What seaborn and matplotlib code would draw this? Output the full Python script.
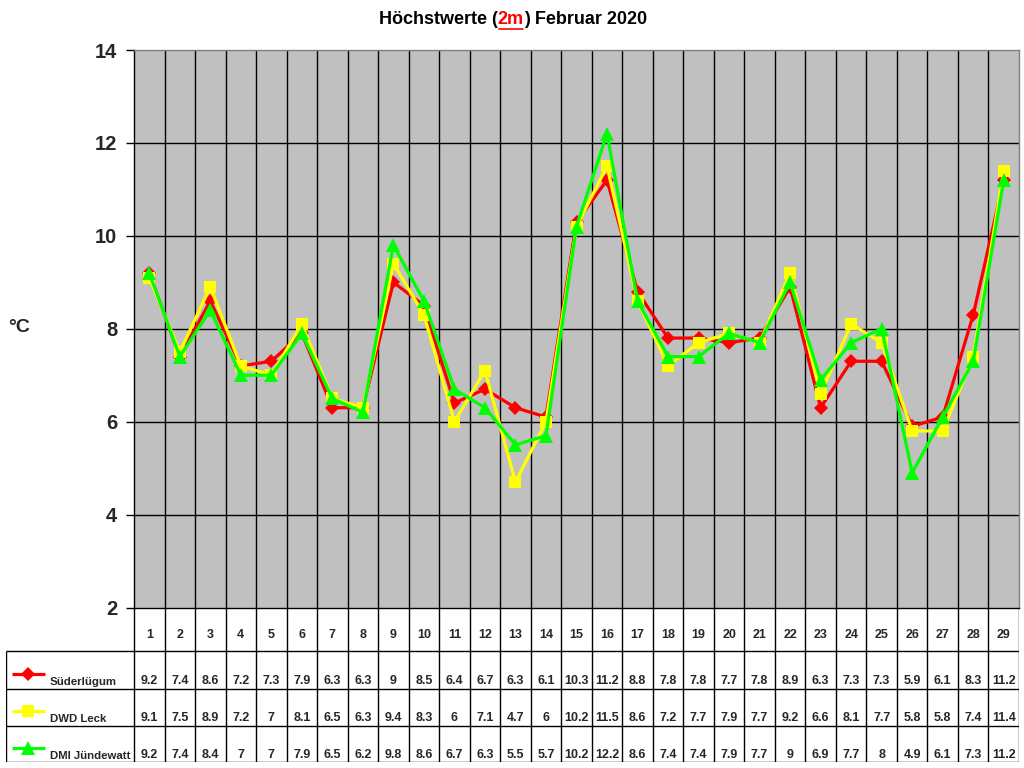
"""Höchstwerte (2m) Februar 2020 - line chart with data table."""

import matplotlib

matplotlib.use("Agg")
import matplotlib.pyplot as plt
import pandas as pd
import seaborn as sns

days = list(range(1, 30))
stations = ["Süderlügum", "DWD Leck", "DMI Jündewatt"]
suederluegum = [9.2, 7.4, 8.6, 7.2, 7.3, 7.9, 6.3, 6.3, 9, 8.5, 6.4, 6.7, 6.3, 6.1, 10.3,
                11.2, 8.8, 7.8, 7.8, 7.7, 7.8, 8.9, 6.3, 7.3, 7.3, 5.9, 6.1, 8.3, 11.2]
dwd_leck = [9.1, 7.5, 8.9, 7.2, 7, 8.1, 6.5, 6.3, 9.4, 8.3, 6, 7.1, 4.7, 6, 10.2,
            11.5, 8.6, 7.2, 7.7, 7.9, 7.7, 9.2, 6.6, 8.1, 7.7, 5.8, 5.8, 7.4, 11.4]
dmi_juendewatt = [9.2, 7.4, 8.4, 7, 7, 7.9, 6.5, 6.2, 9.8, 8.6, 6.7, 6.3, 5.5, 5.7, 10.2,
                  12.2, 8.6, 7.4, 7.4, 7.9, 7.7, 9, 6.9, 7.7, 8, 4.9, 6.1, 7.3, 11.2]
y_ticks = [2, 4, 6, 8, 10, 12, 14]

colors = {"Süderlügum": "#FF0000", "DWD Leck": "#FFFF00", "DMI Jündewatt": "#00FF00"}
markers = {"Süderlügum": "D", "DWD Leck": "s", "DMI Jündewatt": "^"}
msizes = {"Süderlügum": 7, "DWD Leck": 9, "DMI Jündewatt": 10}

sns.set_theme(style="white")
plt.rcParams["font.family"] = ["Liberation Sans", "DejaVu Sans"]
plt.rcParams["font.weight"] = "bold"

df = pd.DataFrame({"day": days, "Süderlügum": suederluegum,
                   "DWD Leck": dwd_leck, "DMI Jündewatt": dmi_juendewatt})
long_df = df.melt(id_vars="day", var_name="station", value_name="temp")

W, H = 1024, 768
fig = plt.figure(figsize=(W / 100, H / 100), dpi=100)
fig.patch.set_facecolor("white")

# plot area in pixels
left_px, right_px, top_px, bottom_px = 134, 1019, 50, 607.5
ax = fig.add_axes([left_px / W, 1 - bottom_px / H,
                   (right_px - left_px) / W, (bottom_px - top_px) / H])
ax.set_facecolor("#C0C0C0")

for station in stations:
    sub = long_df[long_df["station"] == station]
    sns.lineplot(data=sub, x="day", y="temp", color=colors[station],
                 marker=markers[station], markersize=msizes[station],
                 markeredgewidth=0, linewidth=2.3, ax=ax, legend=False)

ax.set_xlim(0.5, 29.5)
ax.set_ylim(2, 14)
ax.set_yticks(y_ticks)
ax.set_yticklabels([str(t) for t in y_ticks], fontsize=14.5, fontweight="bold")
ax.set_xticks([])
ax.set_xlabel("")
ax.set_ylabel("")
ax.tick_params(axis="y", direction="out", length=6, width=1, color="black", pad=6, left=True)
for d in range(1, 29):
    ax.axvline(d + 0.5, color="black", lw=1.0, zorder=0.5)
for t in y_ticks[1:-1]:
    ax.axhline(t, color="black", lw=1.0, zorder=0.5)
ax.spines["left"].set_color("black")
ax.spines["bottom"].set_color("black")
for s in ["top", "right"]:
    ax.spines[s].set_color("#808080")
for s in ax.spines.values():
    s.set_linewidth(1.0)

fig.text(8 / W, 1 - 328 / H, "°C", fontsize=14, fontweight="bold", ha="left", va="center")

# data table below the plot
col_w = (right_px - left_px) / 29
tab_left_px, tab_bottom_px = 6, 762


def px_to_x(px):
    return 0.5 + (px - left_px) / col_w


tab = fig.add_axes([tab_left_px / W, 1 - tab_bottom_px / H,
                    (right_px - tab_left_px) / W, (tab_bottom_px - bottom_px) / H])
tab.set_xlim(px_to_x(tab_left_px), 29.5)
tab.set_ylim(tab_bottom_px, bottom_px)
tab.axis("off")

row_lines = [651, 689, 726, 762]
tab.hlines(row_lines, px_to_x(tab_left_px), 29.5, color="black", lw=1.0)
tab.vlines([d + 0.5 for d in range(0, 30)], bottom_px, tab_bottom_px, color="black", lw=1.0)
tab.vlines(px_to_x(tab_left_px), row_lines[0], tab_bottom_px, color="black", lw=1.0)

for d in days:
    tab.text(d, 635, str(d), ha="center", va="center", fontsize=9, fontweight="bold")

row_text_y = [681, 718, 755]
legend_y = [674, 711, 748]
for station, ty, ly in zip(stations, row_text_y, legend_y):
    for d, v in zip(days, df[station]):
        tab.text(d, ty, f"{v:g}", ha="center", va="center", fontsize=9, fontweight="bold")
    tab.plot([px_to_x(12), px_to_x(45)], [ly, ly], color=colors[station], lw=2.3,
             solid_capstyle="butt")
    tab.plot([px_to_x(28.5)], [ly], marker=markers[station], color=colors[station],
             markersize=msizes[station], markeredgewidth=0)
    tab.text(px_to_x(50), ty + 1, station, ha="left", va="center", fontsize=8.2,
             fontweight="bold")

# title with red underlined "2m"
parts = [("Höchstwerte (", "black"), ("2m", "#FF0000"), (") Februar 2020", "black")]
renderer = fig.canvas.get_renderer()
texts = []
total = 0
for s, c in parts:
    t = fig.text(0, 1 - 20 / H, s, fontsize=13, fontweight="bold", color=c, va="center")
    w = t.get_window_extent(renderer).width
    texts.append((t, w))
    total += w
x0 = 513 - total / 2
for i, (t, w) in enumerate(texts):
    t.set_x(x0 / W)
    if i == 1:
        fig.add_artist(plt.Line2D([(x0 + 1) / W, (x0 + w - 1) / W], [1 - 28.5 / H, 1 - 28.5 / H],
                                  color="#FF0000", lw=1.2))
    x0 += w

fig.savefig("out.png", dpi=100)
